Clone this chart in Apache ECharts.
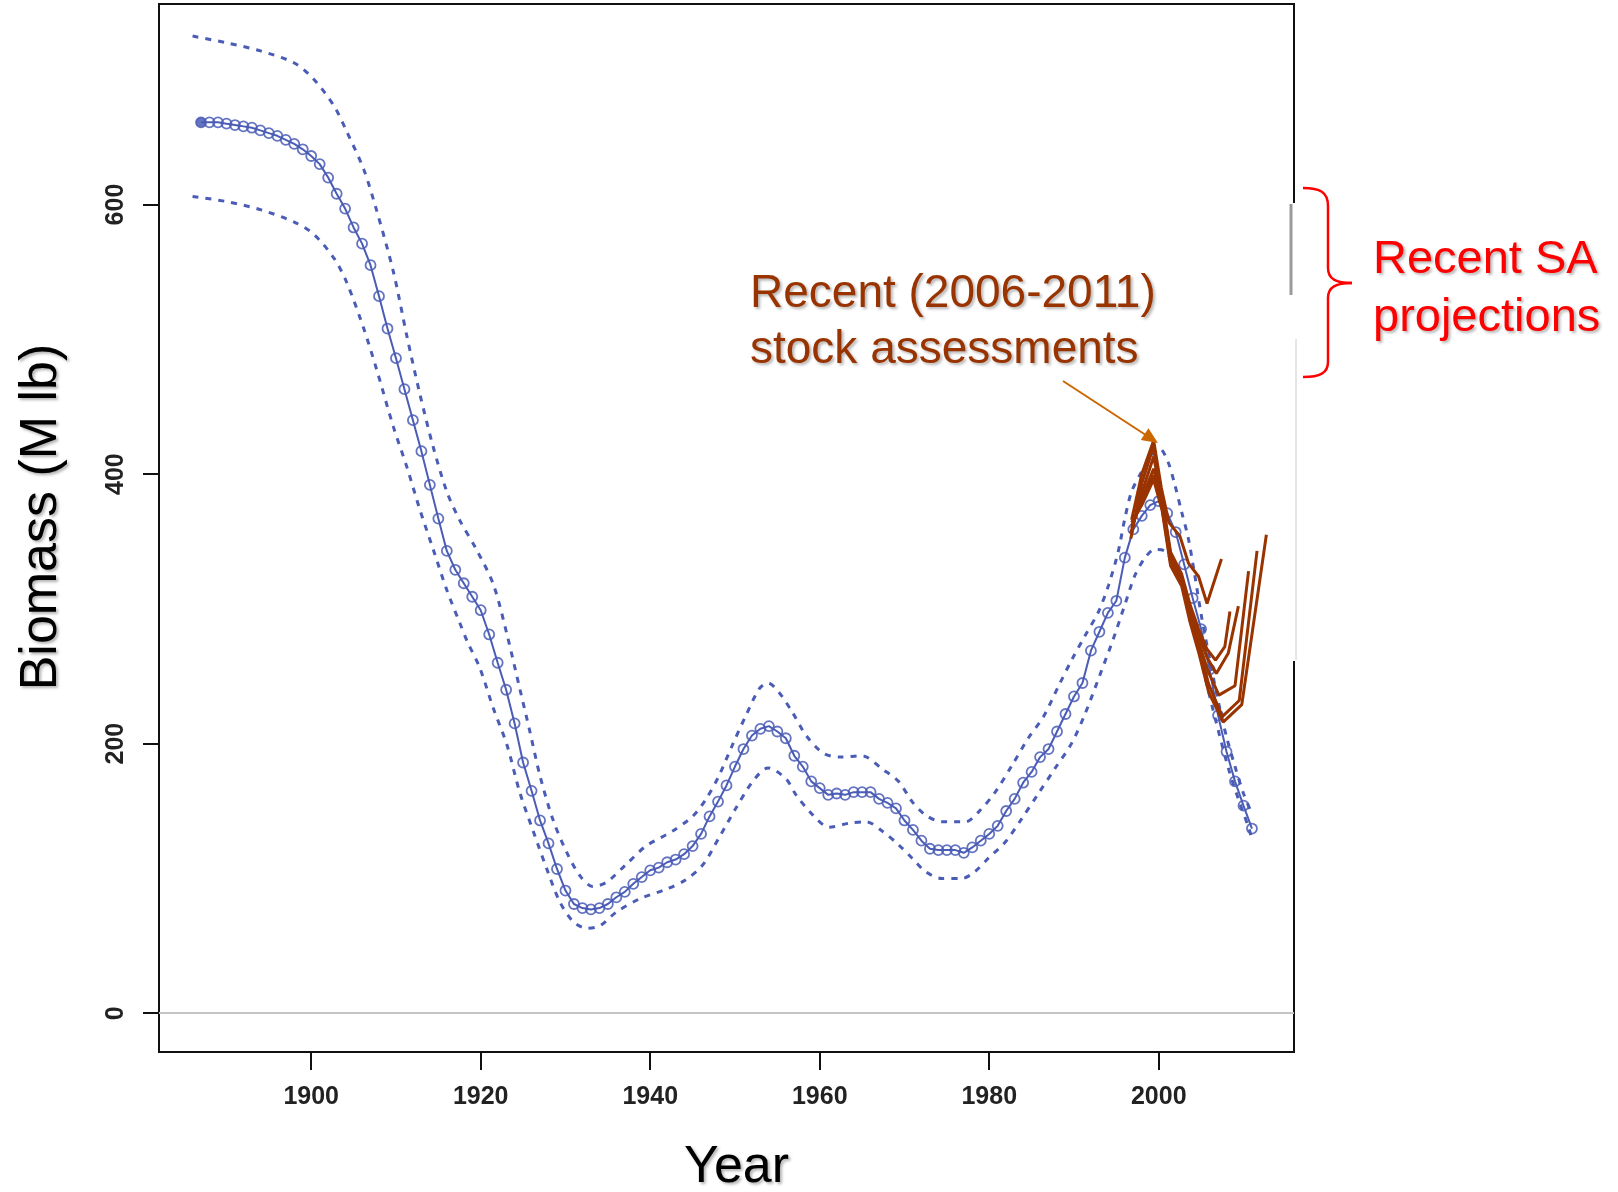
<!DOCTYPE html>
<html>
<head>
<meta charset="utf-8">
<title>Biomass</title>
<script src="https://cdn.jsdelivr.net/npm/echarts@6/dist/echarts.min.js"></script>
<style>
html, body { margin: 0; padding: 0; background: #fff; }
#chart { width: 1618px; height: 1192px; }
</style>
</head>
<body>
<div id="chart"></div>
<script>
// estimated biomass, one value per year 1887-2011
const firstYear = 1887;
const mainVals = [
  661, 661, 661, 660, 659, 658, 657, 655, 653, 651, 648, 645, 641,
  636, 630, 620, 608, 597, 583, 571, 555, 532, 508, 486, 463, 440, 417, 392, 367, 343, 329, 319, 309,
  299, 281, 260, 240, 215, 186, 165, 143, 126, 107, 91, 81, 78, 77, 78, 81, 86, 90, 96, 101,
  106, 108, 112, 114, 118, 124, 133, 146, 157, 169, 183, 196, 206, 211, 213, 209, 204, 191, 183, 172,
  167, 162, 163, 162, 164, 164, 164, 159, 156, 152, 143, 136, 128, 122, 121, 121, 121, 119, 123, 128,
  133, 139, 150, 159, 171, 179, 190, 196, 209, 222, 235, 245, 269, 283, 297, 306, 338, 359, 369, 377,
  380, 371, 357, 333, 308, 285, 255, 221, 194, 172, 154, 137
];
const years = [];
for (let i = 0; i < mainVals.length; i++) years.push(firstYear + i);

// confidence bounds (read at the points where the dashes could be located)
const upperPts = [
  [1886, 725], [1890, 720], [1894, 714], [1898, 705], [1900.3, 693], [1902.7, 673], [1904.2, 654],
  [1906.2, 626], [1907.7, 596], [1909.7, 550], [1911.3, 502], [1912.8, 460], [1914.4, 420], [1916, 387],
  [1917.5, 366], [1919.5, 344], [1921.5, 318], [1923.1, 281], [1924.6, 241], [1925.8, 209], [1927, 176],
  [1928.5, 144], [1930.1, 120], [1931.7, 102], [1933.2, 94], [1934.8, 97], [1937.1, 110], [1939.5, 124],
  [1942.6, 135], [1945, 146], [1946.6, 159], [1948.1, 176], [1949.7, 199], [1951.3, 221], [1952.9, 241],
  [1953.9, 245], [1955.2, 238], [1956.8, 223], [1958.4, 206], [1960.4, 193], [1962.4, 190], [1965, 191],
  [1967.4, 181], [1969.3, 172], [1970.9, 157], [1972.5, 147], [1974.4, 142], [1977.2, 142], [1978.7, 149],
  [1980.7, 164], [1982.7, 184], [1984.6, 204], [1986.4, 220], [1988.2, 243], [1989.8, 263], [1991.3, 280],
  [1992.9, 298], [1994.1, 318], [1995.2, 342], [1996, 367], [1996.8, 387], [1998, 402], [1999.1, 413],
  [2000.1, 419], [2001.1, 409], [2001.9, 392], [2002.7, 372], [2003.5, 352], [2004.2, 327], [2005, 296],
  [2006, 263], [2007, 232], [2008, 205], [2009, 183], [2010, 163], [2011, 148]
];
const lowerPts = [
  [1886, 606], [1890.2, 602], [1894.1, 596], [1898, 587], [1900.3, 578], [1902.7, 560], [1904.2, 542],
  [1906.2, 508], [1907.7, 478], [1909.7, 435], [1911.3, 405], [1912.8, 374], [1914.4, 344], [1916, 314],
  [1917.5, 290], [1918.4, 276], [1919.9, 256], [1921.5, 226], [1923.1, 199], [1924.6, 164], [1926.2, 135],
  [1927.8, 107], [1929.3, 83], [1930.9, 68], [1932.5, 63], [1934.1, 65], [1936, 75], [1938.8, 85],
  [1941.9, 92], [1944.2, 99], [1946.2, 110], [1948.1, 130], [1950.1, 152], [1952.1, 172], [1953.9, 182],
  [1956, 174], [1957.2, 162], [1959.2, 147], [1961.1, 138], [1963.5, 141], [1965.5, 142], [1967.4, 135],
  [1969.3, 125], [1970.9, 115], [1972.5, 105], [1974.4, 100], [1976.8, 100], [1978.3, 105], [1979.9, 115],
  [1981.9, 127], [1983.8, 144], [1985.8, 163], [1987.8, 182], [1989.7, 200], [1991.3, 222], [1993, 250],
  [1994.6, 277], [1996, 303], [1997.2, 325], [1998.4, 338], [1999.5, 344], [2000.7, 343], [2002.3, 325],
  [2003.5, 300], [2004.7, 270], [2005.9, 238], [2007.1, 208], [2008.3, 180], [2009.5, 157], [2010.7, 136],
  [2011, 128]
];

// recent stock assessments (2006-2011) incl. projections
const saA = [[1996.8, 366], [1998, 400], [1999.4, 425], [2000.3, 390], [2001.2, 364], [2002.5, 354], [2003.5, 334], [2004.7, 324], [2005.7, 304], [2007.4, 337]];
const saB = [[1996.7, 352], [1998, 393], [1999.4, 421], [2000.4, 382], [2001.4, 342], [2002.7, 326], [2003.7, 303], [2004.7, 285], [2005.7, 270], [2006.7, 262], [2007.8, 272], [2008.4, 298]];
const saC = [[1996.7, 356], [1998, 386], [1999.4, 413], [2000.4, 380], [2001.4, 340], [2002.7, 324], [2003.7, 300], [2004.7, 281], [2005.7, 264], [2006.8, 252], [2008.2, 267], [2009.4, 302]];
const saD = [[1996.8, 360], [1998, 382], [1999.4, 404], [2000.4, 377], [2001.4, 336], [2002.7, 321], [2003.7, 296], [2004.7, 276], [2005.8, 254], [2007.1, 236], [2009.0, 243], [2010.6, 328]];
const saE = [[1996.8, 362], [1998, 379], [1999.4, 399], [2000.4, 375], [2001.4, 334], [2002.7, 319], [2003.7, 293], [2004.7, 272], [2005.9, 244], [2007.5, 220], [2009.5, 232], [2011.6, 343]];
const saF = [[1996.8, 364], [1998, 377], [1999.4, 396], [2000.4, 373], [2001.4, 332], [2002.7, 317], [2003.7, 290], [2004.7, 268], [2005.9, 238], [2007.6, 216], [2009.8, 229], [2012.7, 355]];

const xTicks = [1900, 1920, 1940, 1960, 1980, 2000];
const yTicks = [0, 200, 400, 600];

const blue = '#4a5cb6';
const brown = '#993300';
const red = '#ff0000';
const shadow = {
  textShadowColor: 'rgba(0,0,0,0.3)',
  textShadowBlur: 3,
  textShadowOffsetX: 2,
  textShadowOffsetY: 2
};

const mainData = years.map((y, i) => [y, mainVals[i]]);
mainData[0] = { value: mainData[0], itemStyle: { color: blue } };

function saSeries(pts) {
  return {
    type: 'line',
    data: pts,
    showSymbol: false,
    lineStyle: { color: brown, width: 3 },
    z: 5,
    silent: true
  };
}

function braceCurve(x1, y1, cx1, cy1, cx2, cy2, x2, y2) {
  return {
    type: 'bezierCurve', z: 102,
    shape: { x1: x1, y1: y1, cpx1: cx1, cpy1: cy1, cpx2: cx2, cpy2: cy2, x2: x2, y2: y2 },
    style: { stroke: red, lineWidth: 2.5, fill: null }
  };
}
function braceLine(x1, y1, x2, y2) {
  return { type: 'line', z: 102, shape: { x1: x1, y1: y1, x2: x2, y2: y2 }, style: { stroke: red, lineWidth: 2.5 } };
}

const tickFont = "'Liberation Sans Narrow', 'Liberation Sans', sans-serif";
const bigFont = "'Liberation Sans', Arial, sans-serif";

const chart = echarts.init(document.getElementById('chart'));
chart.setOption({
  animation: false,
  backgroundColor: '#fff',
  grid: {
    left: 159, top: 4, width: 1135, height: 1048,
    show: true, borderColor: '#111', borderWidth: 2,
    outerBoundsMode: 'none'
  },
  xAxis: {
    type: 'value',
    min: 1882.04, max: 2015.96,
    axisLine: { show: false, onZero: false },
    splitLine: { show: false },
    axisTick: { customValues: xTicks, length: 18, lineStyle: { color: '#111', width: 2 } },
    axisLabel: {
      customValues: xTicks, margin: 33,
      formatter: function (v) { return String(v); },
      fontFamily: tickFont, fontSize: 25, fontWeight: 'bold', color: '#222'
    },
    name: 'Year', nameLocation: 'middle', nameGap: 90,
    nameTextStyle: Object.assign({ fontFamily: bigFont, fontSize: 52, color: '#000', padding: [0, 0, 0, 20] }, shadow)
  },
  yAxis: {
    type: 'value',
    min: -28.8, max: 748.8,
    axisLine: { show: false, onZero: false },
    splitLine: { show: false },
    axisTick: { customValues: yTicks, length: 16, lineStyle: { color: '#111', width: 2 } },
    axisLabel: {
      customValues: yTicks, rotate: 90, margin: 30,
      formatter: function (v) { return String(v); },
      fontFamily: tickFont, fontSize: 25, fontWeight: 'bold', color: '#222'
    },
    name: 'Biomass (M lb)', nameLocation: 'middle', nameRotate: 90, nameGap: 91,
    nameTextStyle: Object.assign({ fontFamily: bigFont, fontSize: 52, color: '#000', padding: [0, 0, 0, 22] }, shadow)
  },
  series: [
    {
      type: 'line', data: upperPts, showSymbol: false, smooth: 0.3,
      lineStyle: { color: blue, width: 3, type: [6, 7] }, z: 2, silent: true,
      markLine: {
        silent: true, symbol: 'none', label: { show: false },
        lineStyle: { color: '#c4c4c4', width: 2, type: 'solid' },
        data: [{ yAxis: 0 }]
      }
    },
    {
      type: 'line', data: lowerPts, showSymbol: false, smooth: 0.3,
      lineStyle: { color: blue, width: 3, type: [6, 7] }, z: 2, silent: true
    },
    {
      type: 'line', data: mainData, symbol: 'circle', symbolSize: 10,
      lineStyle: { color: blue, width: 2 },
      itemStyle: { color: 'transparent', borderColor: blue, borderWidth: 1.8, opacity: 0.85 },
      z: 3, silent: true
    },
    saSeries(saA), saSeries(saB), saSeries(saC), saSeries(saD), saSeries(saE), saSeries(saF)
  ],
  graphic: [
    // right frame edge partly hidden behind the pasted annotation
    { type: 'rect', shape: { x: 1289, y: 203, width: 10, height: 458 }, style: { fill: '#fff' }, z: 100 },
    { type: 'line', shape: { x1: 1291, y1: 204, x2: 1291, y2: 295 }, style: { stroke: '#9a9a9a', lineWidth: 3 }, z: 101 },
    { type: 'line', shape: { x1: 1296, y1: 339, x2: 1296, y2: 660 }, style: { stroke: '#cccccc', lineWidth: 1 }, z: 101 },
    // arrow
    { type: 'line', shape: { x1: 1063, y1: 381, x2: 1145, y2: 434.5 }, style: { stroke: '#cc6600', lineWidth: 2 }, z: 102 },
    { type: 'polygon', shape: { points: [[1158, 443], [1140.8, 440.1], [1148.4, 428.3]] }, style: { fill: '#cc6600' }, z: 102 },
    // annotation texts
    { type: 'text', x: 750, y: 294, z: 102,
      style: Object.assign({ text: 'Recent (2006-2011)', fill: brown, font: "46px " + bigFont, verticalAlign: 'middle' }, shadow) },
    { type: 'text', x: 750, y: 350, z: 102,
      style: Object.assign({ text: 'stock assessments', fill: brown, font: "46px " + bigFont, verticalAlign: 'middle' }, shadow) },
    // curly brace
    braceCurve(1303, 188, 1320, 188, 1328, 192, 1328, 206),
    braceLine(1328, 206, 1328, 268),
    braceCurve(1328, 268, 1328, 279, 1336, 283, 1352, 283),
    braceCurve(1352, 283, 1336, 283, 1328, 287, 1328, 298),
    braceLine(1328, 298, 1328, 362),
    braceCurve(1328, 362, 1328, 373, 1320, 377, 1303, 377),
    { type: 'text', x: 1373, y: 260, z: 102,
      style: Object.assign({ text: 'Recent SA', fill: red, font: "47px " + bigFont, verticalAlign: 'middle' }, shadow) },
    { type: 'text', x: 1373, y: 318, z: 102,
      style: Object.assign({ text: 'projections', fill: red, font: "47px " + bigFont, verticalAlign: 'middle' }, shadow) }
  ]
});
</script>
</body>
</html>
